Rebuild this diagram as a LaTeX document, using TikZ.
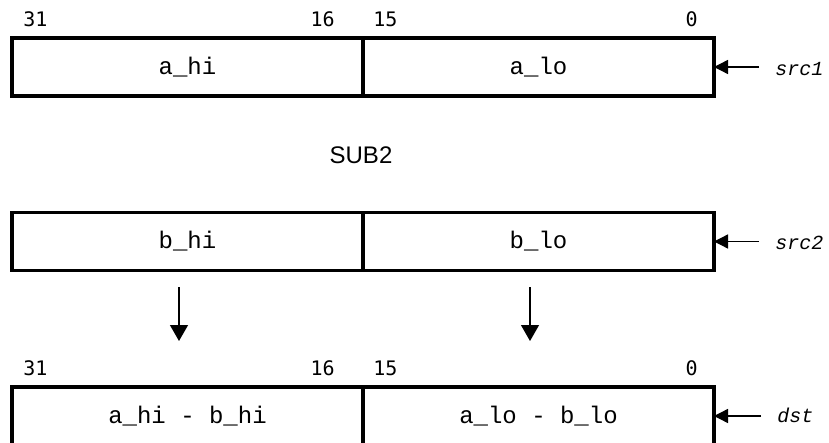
\documentclass[tikz,border=0pt]{standalone}
\usepackage{fontspec}
\newfontfamily\regfont{Liberation Mono}
\newfontfamily\bitfont{DejaVu Sans Mono}
\newfontfamily\opfont{Liberation Sans}
\newcommand\regtext{\regfont\fontsize{12}{14}\selectfont}
\newcommand\bittext{\bitfont\fontsize{10}{12}\selectfont}
\newcommand\opndtext{\regfont\itshape\fontsize{10}{12}\selectfont}
\newcommand\optext{\opfont\fontsize{12}{14}\selectfont}
\usetikzlibrary{arrows.meta,positioning}

\begin{document}
\begin{tikzpicture}[x=.5pt,y=-.5pt,>={Triangle[width=7pt,length=7pt]},
  field/.style={draw,line width=1.7pt,minimum width=175.5pt,minimum height=29pt,
    inner sep=0pt,outer sep=0pt,font=\regtext},
  bitno/.style={inner sep=0pt,font=\bittext},
  opnd/.style={inner sep=0pt,anchor=west,font=\opndtext},
  ptr/.style={->,line width=.7pt,shorten <=8pt},
  flow/.style={-{Triangle[width=9pt,length=8pt]},line width=.6pt,
    shorten <=8.25pt,shorten >=23pt}]
\useasboundingbox (0,0) rectangle (829,443);
% bit numbers
\foreach \y/\r in {27/top,375/bot}{
\node[bitno,anchor=base west] (b31\r) at (23,\y) {31};
\node[bitno,anchor=base east] (b16\r) at (335,\y) {16};
\node[bitno,anchor=base west] (b15\r) at (373,\y) {15};
\node[bitno,anchor=base east] (b0\r) at (698,\y) {0};
}
% src1
\node[field] (ahi) at (187.5,67) {a\_hi};
\node[field,right=0pt of ahi] (alo) {a\_lo};
\node[opnd] (src1) at (775,69) {src1};
\draw[ptr] (alo.east -| src1.west) -- (alo.east);
% operation
\node[inner sep=0pt,font=\optext] (op) at (361,155) {SUB2};
% src2
\node[field] (bhi) at (187.5,241.5) {b\_hi};
\node[field,right=0pt of bhi] (blo) {b\_lo};
\node[opnd] (src2) at (775,243) {src2};
\draw[ptr] (blo.east -| src2.west) -- (blo.east);
% dst
\node[field] (dhi) at (187.5,416) {a\_hi - b\_hi};
\node[field,right=0pt of dhi] (dlo) {a\_lo - b\_lo};
\node[opnd] (dst) at (777,415) {dst};
\draw[ptr] (dlo.east -| dst.west) -- (dlo.east);
% results
\draw[flow] ([xshift=-4.25pt]bhi.south) -- ([xshift=-4.25pt]dhi.north);
\draw[flow] ([xshift=-4.25pt]blo.south) -- ([xshift=-4.25pt]dlo.north);
\end{tikzpicture}
\end{document}
